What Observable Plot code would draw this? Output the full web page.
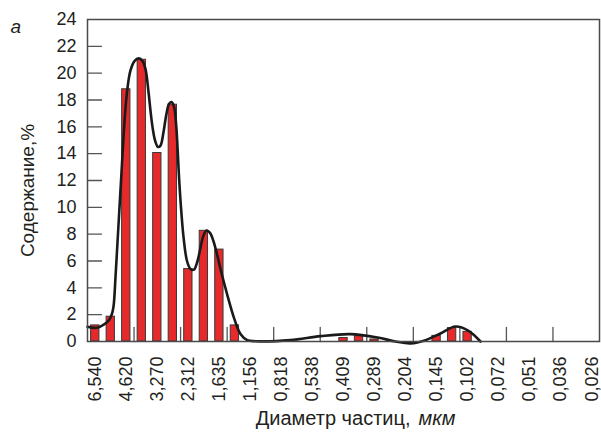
<!DOCTYPE html>
<html><head><meta charset="utf-8">
<script src="https://cdn.jsdelivr.net/npm/d3@7"></script>
<script src="https://cdn.jsdelivr.net/npm/@observablehq/plot@0.6"></script>
<style>
html,body{margin:0;padding:0;background:#fff;}
</style>
</head><body><div id="chart"></div>
<script>
// Category (particle diameter, µm) tick labels and their positions on the bin index axis
const sizeLabels = ["6,540","4,620","3,270","2,312","1,635","1,156","0,818","0,538","0,409","0,289","0,204","0,145","0,102","0,072","0,051","0,036","0,026"];
const labelPositions = [0,2,4,6,8,10,12,14,16,18,20,22,24,26,28,30,32];

// Histogram bars: bin index and content, %
const barIndex  = [0, 1, 2, 3, 4, 5, 6, 7, 8, 9, 16, 17, 18, 22, 23, 24];
const barValues = [1.2, 1.85, 18.8, 21.0, 14.05, 17.65, 5.4, 8.25, 6.85, 1.2, 0.26, 0.4, 0.15, 0.42, 1.0, 0.72];

// Smoothed distribution curve (bin index, %)
const curveX = [-0.5, 0.08, 0.596, 0.854, 1.047, 1.176, 1.305, 1.434, 1.563, 1.691, 1.820, 1.949, 2.078, 2.271, 2.529, 2.806, 3.045, 3.238, 3.431, 3.560, 3.689, 3.851, 4.044, 4.205, 4.398, 4.592, 4.753, 4.914, 5.075, 5.204, 5.301, 5.397, 5.526, 5.688, 5.913, 6.139, 6.352, 6.590, 6.783, 6.977, 7.170, 7.396, 7.641, 7.847, 8.072, 8.504, 8.930, 9.361, 9.793, 10.33, 12.58, 14.52, 16.45, 18.19, 19.35, 20.32, 21.29, 22.25, 23.22, 24.06, 24.83];
const curveY = [1.1, 1.02, 1.3, 1.55, 1.95, 2.6, 4.8, 7.4, 10.0, 12.6, 15.2, 17.4, 18.9, 20.2, 20.9, 21.1, 20.9, 20.3, 18.6, 17.2, 16.0, 15.0, 14.5, 14.6, 15.6, 17.0, 17.7, 17.85, 17.5, 16.3, 14.5, 12.3, 10.0, 7.8, 6.0, 5.4, 5.35, 6.0, 7.0, 7.9, 8.27, 8.1, 7.4, 6.5, 5.4, 3.5, 1.8, 0.56, 0.1, 0.02, 0.1, 0.4, 0.55, 0.3, 0.0, -0.14, 0.1, 0.6, 1.12, 0.8, 0.0];

// Axis ticks
const yTicks = [0, 2, 4, 6, 8, 10, 12, 14, 16, 18, 20, 22, 24];
const yTickMarks = [2, 4, 6, 8, 10, 12, 14, 16, 18, 20, 22];
const xTickMarks = [2.5, 5.5, 8.5, 11.5, 14.5, 17.5, 20.5, 23.5, 26.5, 29.5];

const bars = barIndex.map((i, k) => ({i, v: barValues[k]}));
const curve = curveX.map((x, k) => ({x, y: curveY[k]}));

const lineShape = {draw(ctx, l) { ctx.moveTo(0, 0); ctx.lineTo(0, -l); }};
const ink = "#231f20";
const font = "'Liberation Sans', Arial, Helvetica, sans-serif";

const chart = Plot.plot({
  width: 601,
  height: 434,
  marginLeft: 87,
  marginRight: 2,
  marginTop: 19,
  marginBottom: 93,
  style: {fontFamily: font, fontSize: "18px", color: ink, background: "#fff", overflow: "visible"},
  x: {domain: [-0.5, 32.5]},
  y: {domain: [0, 24]},
  marks: [
    Plot.rectY(bars, {x1: d => d.i - 0.5, x2: d => d.i + 0.5, y: "v", insetLeft: 3.6, insetRight: 3.6, fill: "#e6292b", stroke: "#3a3a3a", strokeWidth: 1}),
    Plot.vector(xTickMarks, {x: d => d, frameAnchor: "bottom", length: 14, anchor: "start", shape: lineShape, stroke: "#555", strokeWidth: 1.3}),
    Plot.vector(yTickMarks, {y: d => d, frameAnchor: "left", rotate: 90, length: 14, anchor: "start", shape: lineShape, stroke: "#555", strokeWidth: 1.3}),
    Plot.line(curve, {x: "x", y: "y", curve: "catmull-rom", stroke: "#1a1a1a", strokeWidth: 2.6}),
    Plot.frame({stroke: "#4a4a4a", strokeWidth: 1.5}),
    Plot.axisY(yTicks, {tickSize: 0, tickPadding: 11, label: null, fontSize: 18}),
    Plot.axisX(labelPositions, {tickSize: 0, tickPadding: 15, tickRotate: -90, tickFormat: d => sizeLabels[labelPositions.indexOf(d)], label: null, fontSize: 18}),
    Plot.text(["Содержание,%"], {frameAnchor: "left", textAnchor: "middle", rotate: -90, dx: -60, dy: 10, fontSize: 19, fill: ink}),
    Plot.text(["Диаметр частиц,"], {frameAnchor: "bottom", textAnchor: "end", dx: 67, dy: 83, fontSize: 20, fill: ink}),
    Plot.text(["мкм"], {frameAnchor: "bottom", textAnchor: "start", dx: 75, dy: 83, fontSize: 20, fontStyle: "italic", fill: ink}),
    Plot.text(["а"], {frameAnchor: "top-left", textAnchor: "start", dx: -77, dy: 0, fontSize: 19, fontStyle: "italic", fill: ink})
  ]
});
document.getElementById("chart").append(chart);
</script>
</body></html>
